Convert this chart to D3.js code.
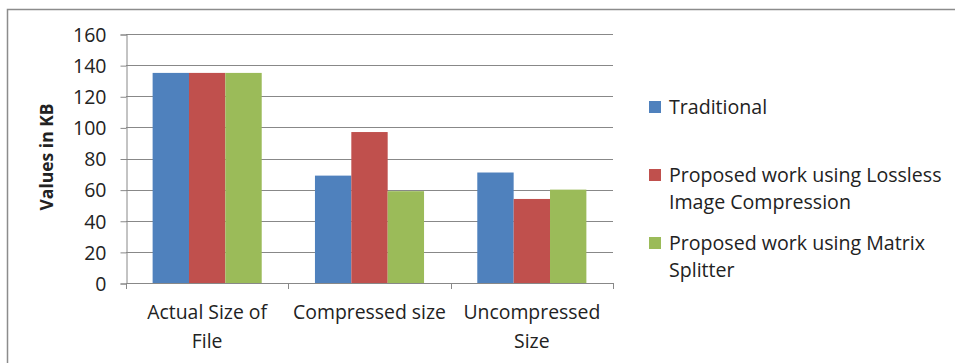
<!DOCTYPE html>
<html>
<head>
<meta charset="utf-8">
<script src="https://cdn.jsdelivr.net/npm/d3@7/dist/d3.min.js"></script>
<style>
  body { margin: 0; background: #fff; }
  svg { display: block; }
  text { font-family: "Open Sans", sans-serif; fill: #222; }
</style>
</head>
<body>
<svg id="chart" width="955" height="363"></svg>
<script>
const categories = [["Actual Size of", "File"], ["Compressed size"], ["Uncompressed", "Size"]];
const seriesNames = ["Traditional", "Proposed work using Lossless Image Compression", "Proposed work using Matrix Splitter"];
const legendLines = [["Traditional"], ["Proposed work using Lossless", "Image Compression"], ["Proposed work using Matrix", "Splitter"]];
const traditional = [135, 69, 71];
const lossless = [135, 97, 54];
const matrixSplitter = [135, 59, 60];
const yTicks = [0, 20, 40, 60, 80, 100, 120, 140, 160];
const colors = ["#4F81BD", "#C0504D", "#9BBB59"];

const values = [traditional, lossless, matrixSplitter];
const svg = d3.select("#chart");

// outer frame (top and left visible)
svg.append("path").attr("d", "M7.5,363 V9.5 H955").attr("fill", "none").attr("stroke", "#8c8c8c").attr("stroke-width", 1.5);

const pLeft = 126, pRight = 613, pTop = 34, pBottom = 283;
const catIdx = categories.map((d, i) => i);
const x = d3.scaleBand().domain(catIdx).range([pLeft, pRight]).paddingInner(0.328).paddingOuter(0.164);
const xs = d3.scaleBand().domain([0, 1, 2]).range([0, x.bandwidth()]);
const y = d3.scaleLinear().domain([0, 160]).range([pBottom, pTop]);

// gridlines
svg.append("g").selectAll("line").data(yTicks.filter(t => t > 0)).join("line")
  .attr("x1", pLeft).attr("x2", pRight)
  .attr("y1", d => Math.round(y(d)) + 0.5).attr("y2", d => Math.round(y(d)) + 0.5)
  .attr("stroke", "#888").attr("stroke-width", 1);

// bars
const g = svg.append("g");
values.forEach((vals, s) => {
  g.selectAll(null).data(vals).join("rect")
    .attr("x", (d, i) => x(i) + xs(s))
    .attr("width", xs.bandwidth())
    .attr("y", d => y(d))
    .attr("height", d => y(0) - y(d))
    .attr("fill", colors[s]);
});

// y axis
const yAxis = d3.axisLeft(y).tickValues(yTicks).tickSize(6).tickPadding(14);
const ya = svg.append("g").attr("transform", `translate(${pLeft + 0.5},0.5)`).call(yAxis);
ya.select(".domain").attr("stroke", "#888");
ya.selectAll(".tick line").attr("stroke", "#888");
ya.selectAll(".tick text").attr("font-size", 19.5).attr("font-family", "Open Sans").attr("fill", "#222").attr("dy", "0.35em");

// x axis line and ticks at category boundaries
const step = x.step();
const boundaries = [0, 1, 2, 3].map(i => pLeft + i * step);
svg.append("line").attr("x1", pLeft).attr("x2", pRight).attr("y1", pBottom + 0.5).attr("y2", pBottom + 0.5).attr("stroke", "#888");
svg.append("g").selectAll("line").data(boundaries).join("line")
  .attr("x1", d => Math.round(d) + 0.5).attr("x2", d => Math.round(d) + 0.5)
  .attr("y1", pBottom).attr("y2", pBottom + 6).attr("stroke", "#888");

// x labels
const xl = svg.append("g");
categories.forEach((lines, i) => {
  const cx = x(i) + x.bandwidth() / 2;
  lines.forEach((t, j) => {
    xl.append("text").attr("x", cx).attr("y", 312 + j * 29).attr("dy", "0.35em")
      .attr("text-anchor", "middle").attr("font-size", 19.4).text(t);
  });
});

// y title
svg.append("text").attr("transform", "translate(47,157) rotate(-90)")
  .attr("text-anchor", "middle").attr("dy", "0.35em")
  .attr("font-size", 17.5).attr("font-weight", "bold").text("Values in KB");

// legend
const legendY = [[107], [175, 202], [243, 270]];
const lg = svg.append("g");
seriesNames.forEach((name, s) => {
  const ly = legendY[s][0];
  lg.append("rect").attr("x", 649).attr("y", ly - 6).attr("width", 12).attr("height", 12).attr("fill", colors[s]);
  legendLines[s].forEach((t, j) => {
    lg.append("text").attr("x", 669).attr("y", legendY[s][j]).attr("dy", "0.35em")
      .attr("font-size", 19.6).text(t);
  });
});
</script>
</body>
</html>
